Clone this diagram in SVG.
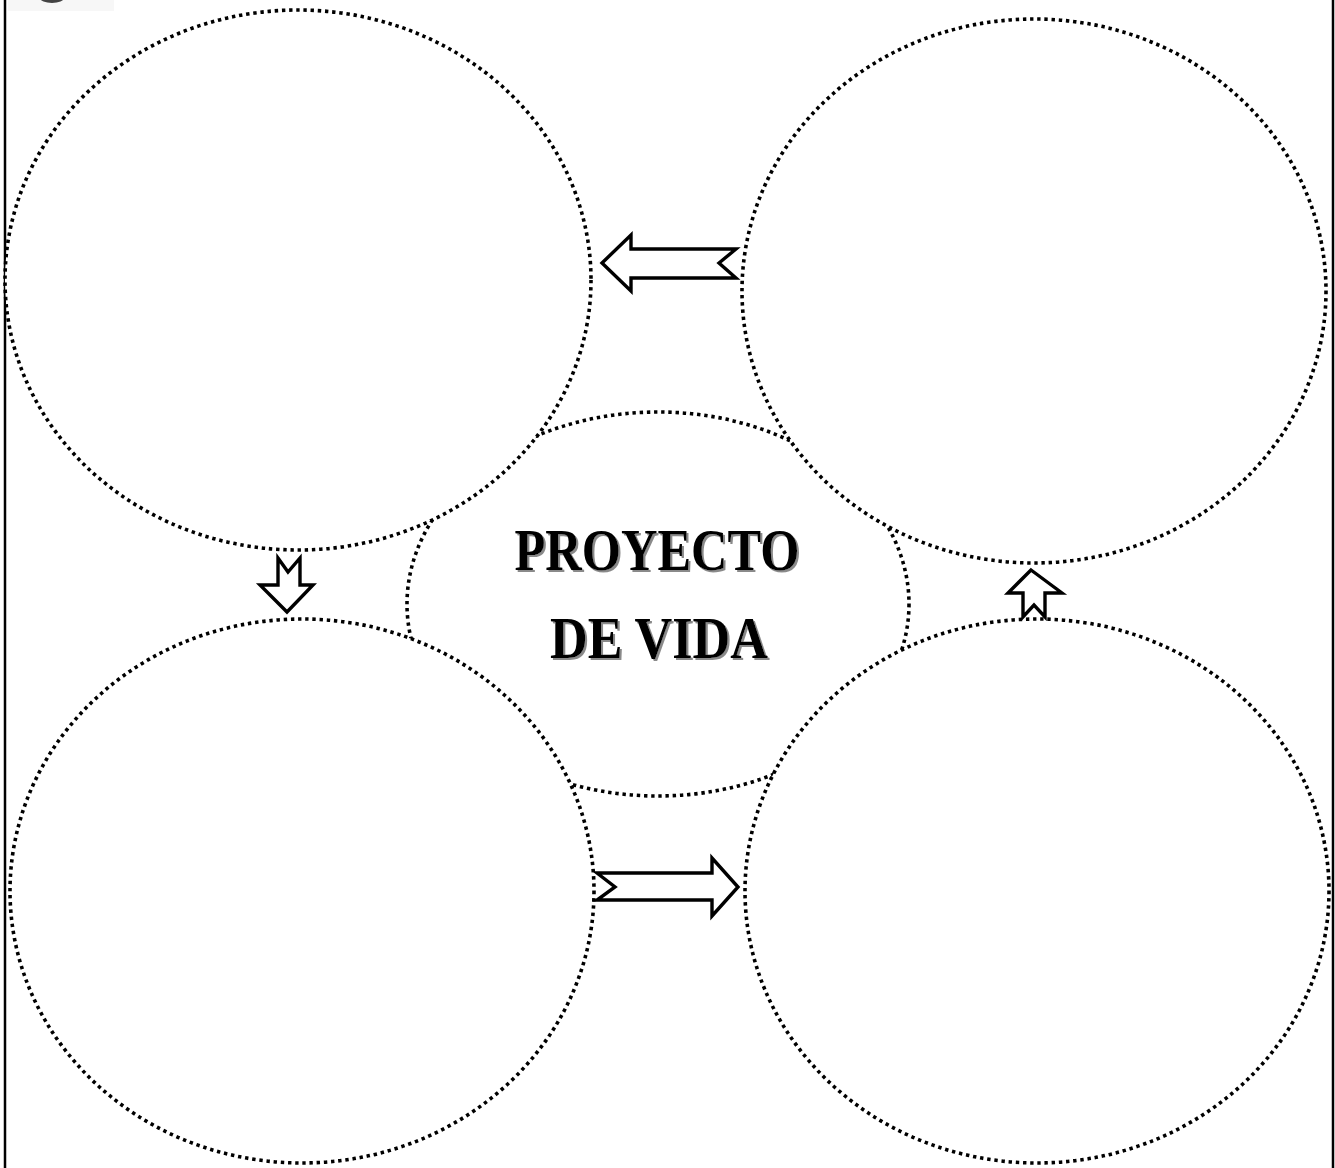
<svg xmlns="http://www.w3.org/2000/svg" width="1335" height="1168" viewBox="0 0 1335 1168">
<defs>
<filter id="sh" x="-10%" y="-20%" width="120%" height="140%">
<feDropShadow dx="2" dy="2" stdDeviation="0.3" flood-color="#8a8a8a" flood-opacity="1"/>
</filter>
</defs>
<style>
.dot{fill:#fff;stroke:#000;stroke-width:3.6;stroke-dasharray:3.4 3.8}
.arr{fill:#fff;stroke:#000;stroke-width:3.4;stroke-linejoin:miter}
.t{font-family:"Liberation Serif","DejaVu Serif",serif;font-size:60px;font-weight:bold;text-anchor:middle;fill:#000;filter:url(#sh)}
</style>
<rect x="0" y="0" width="1335" height="1168" fill="#fff"/>
<rect x="8" y="0" width="106" height="11" fill="#f7f7f7"/>
<ellipse cx="52" cy="-2" rx="12" ry="5" fill="#444"/>
<line x1="5" y1="0" x2="5" y2="1168" stroke="#000" stroke-width="2.5"/>
<line x1="1333" y1="0" x2="1333" y2="1168" stroke="#000" stroke-width="2.5"/>
<g id="center">
<ellipse class="dot" cx="658" cy="604" rx="251" ry="192"/>
</g>
<g id="topleft"><ellipse class="dot" cx="298" cy="280" rx="293" ry="270"/></g>
<g id="topright"><ellipse class="dot" cx="1034" cy="291" rx="292" ry="272"/></g>
<g id="bottomleft"><ellipse class="dot" cx="302" cy="891" rx="292" ry="272"/></g>
<g id="bottomright"><ellipse class="dot" cx="1037" cy="891" rx="292" ry="272"/></g>
<g id="label">
<text class="t" x="657" y="570" textLength="285" lengthAdjust="spacingAndGlyphs">PROYECTO</text>
<text class="t" x="659" y="658" textLength="218" lengthAdjust="spacingAndGlyphs">DE VIDA</text>
</g>
<g id="connectors">
<polygon class="arr" points="602,263 631,235 631,249 736,249 719,263 736,278 631,278 631,291"/>
<polygon class="arr" points="278,558 288,572 300,558 300,585 313,585 287,612 260,585 278,585"/>
<polygon class="arr" points="1031,570 1062,593 1045,593 1045,617 1034,605 1023,617 1023,593 1008,593"/>
<polygon class="arr" points="597,873 712,873 712,858 738,887 712,916 712,900 597,900 615,887"/>
</g>
</svg>
